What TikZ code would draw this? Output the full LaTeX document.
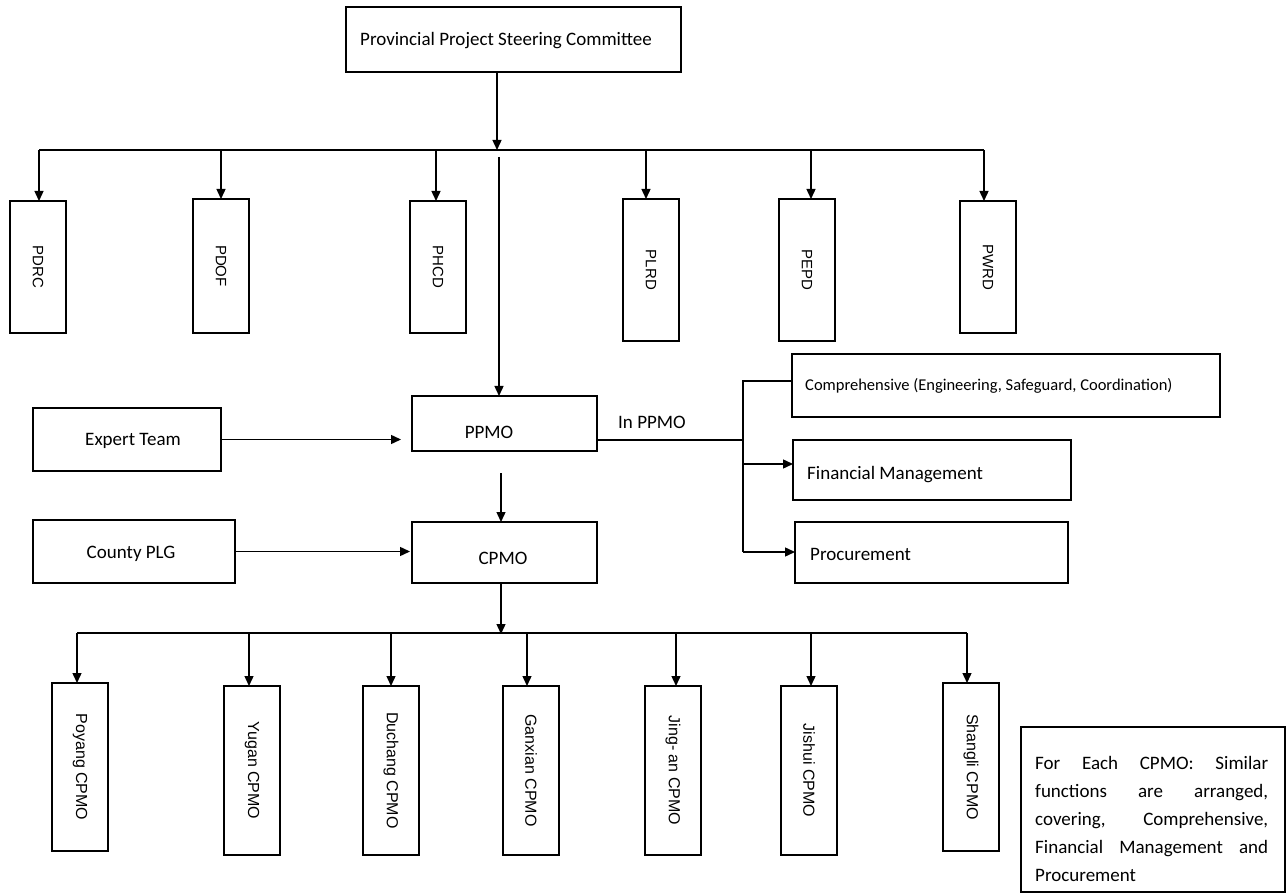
\documentclass[tikz,border=0pt]{standalone}
\usepackage{fontspec}
\usepackage{graphicx}
\setmainfont{Carlito}
\newfontfamily\arialf{Liberation Sans}
\usetikzlibrary{arrows.meta}
\begin{document}
\begin{tikzpicture}[x=1pt,y=-1pt,
  box/.style={draw, line width=1.5pt, inner sep=0pt, outer sep=0pt, anchor=north west},
  conn/.style={line width=1.4pt},
  arr/.style={conn, -{Triangle[length=10pt,width=9pt]}},
  lbl/.style={font=\fontsize{19}{23}\selectfont, inner sep=0pt},
  slbl/.style={font=\fontsize{16.5}{20}\selectfont, inner sep=0pt},
  vtop/.style={box, font=\arialf\fontsize{15}{18}\selectfont, minimum width=56pt},
  vbot/.style={box, font=\arialf\fontsize{16}{19}\selectfont, minimum width=56pt},
]
\useasboundingbox (0,0) rectangle (1286,893);

% top
\node[box, minimum width=335pt, minimum height=65pt] (psc) at (346,7) {};
\node[lbl, anchor=west] (psct) at (360,41) {Provincial Project Steering Committee};

\node[vtop, minimum height=132pt] (pdrc) at (10,201) {\rotatebox{-90}{PDRC}};
\node[vtop, minimum height=134pt] (pdof) at (193,199) {\rotatebox{-90}{PDOF}};
\node[vtop, minimum height=132pt] (phcd) at (410,201) {\rotatebox{-90}{PHCD}};
\node[vtop, minimum height=142pt] (plrd) at (623,199) {\rotatebox{-90}{PLRD}};
\node[vtop, minimum height=142pt] (pepd) at (779,199) {\rotatebox{-90}{PEPD}};
\node[vtop, minimum height=132pt] (pwrd) at (960,201) {\rotatebox{-90}{PWRD}};

\coordinate (tin) at (497,150);
\coordinate (t1) at (39,150);
\coordinate (t2) at (221,150);
\coordinate (t3) at (436,150);
\coordinate (t4) at (646,150);
\coordinate (t5) at (811,150);
\coordinate (t6) at (984,150);
\draw[arr] (psc.south -| tin) -- (tin);
\draw[conn] (t1) -- (t6);
\draw[arr] (t1) -- (t1 |- pdrc.north);
\draw[arr] (t2) -- (t2 |- pdof.north);
\draw[arr] (t3) -- (t3 |- phcd.north);
\draw[arr] (t4) -- (t4 |- plrd.north);
\draw[arr] (t5) -- (t5 |- pepd.north);
\draw[arr] (t6) -- (t6 |- pwrd.north);

% middle
\node[box, minimum width=185pt, minimum height=55pt] (ppmo) at (412,396) {};
\node[lbl] (ppmot) at (489,432) {PPMO};
\node[box, minimum width=188pt, minimum height=63pt] (expert) at (33,408) {};
\node[lbl] (expertt) at (133,441) {Expert Team};
\node[box, minimum width=185pt, minimum height=61pt] (cpmo) at (412,522) {};
\node[lbl] (cpmot) at (503,558) {CPMO};
\node[box, minimum width=202pt, minimum height=63pt] (county) at (33,520) {};
\node[lbl] (countyt) at (131,554) {County PLG};

\coordinate (vp) at (499,157);
\draw[arr] (vp) -- (vp |- ppmo.north);
\draw[arr, shorten >=11pt] (expert.east) -- (expert.east -| ppmo.west);
\draw[arr, shorten >=2pt] (county.east) -- (county.east -| cpmo.west);
\coordinate (pc) at (501,473);
\draw[arr] (pc) -- (pc |- cpmo.north);

% right
\node[box, minimum width=428pt, minimum height=63pt] (comp) at (792,354) {};
\node[slbl, anchor=west] (compt) at (805,386) {Comprehensive (Engineering, Safeguard, Coordination)};
\node[box, minimum width=278pt, minimum height=60pt] (fin) at (793,440) {};
\node[lbl, anchor=west] (fint) at (807,475) {Financial Management};
\node[box, minimum width=273pt, minimum height=61pt] (proc) at (795,522) {};
\node[lbl, anchor=west] (proct) at (810,554) {Procurement};
\node[lbl, anchor=west] (inppmo) at (618,422) {In PPMO};

\coordinate (rj) at (743,440);
\coordinate (rtop) at (743,381);
\coordinate (rfin) at (743,464);
\coordinate (rbot) at (743,552);
\draw[conn] (rj -| ppmo.east) -- (rj);
\draw[conn] (comp.west |- rtop) -- (rtop) -- (rbot);
\draw[arr] (rfin) -- (rfin -| fin.west);
\draw[arr] (rbot) -- (rbot -| proc.west);

% bottom
\node[vbot, minimum height=168pt] (poy) at (52,683) {\rotatebox{-90}{Poyang CPMO}};
\node[vbot, minimum height=169pt] (yug) at (224,686) {\rotatebox{-90}{Yugan CPMO}};
\node[vbot, minimum height=169pt] (duc) at (363,686) {\rotatebox{-90}{Duchang CPMO}};
\node[vbot, minimum height=169pt] (gan) at (503,686) {\rotatebox{-90}{Ganxian CPMO}};
\node[vbot, minimum height=169pt] (jin) at (645,686) {\rotatebox{-90}{Jing- an CPMO}};
\node[vbot, minimum height=169pt] (jis) at (781,686) {\rotatebox{-90}{Jishui CPMO}};
\node[vbot, minimum height=168pt] (sha) at (943,683) {\rotatebox{-90}{Shangli CPMO}};

\coordinate (bin) at (501,633);
\coordinate (b1) at (77,633);
\coordinate (b2) at (249,633);
\coordinate (b3) at (391,633);
\coordinate (b4) at (527,633);
\coordinate (b5) at (676,633);
\coordinate (b6) at (811,633);
\coordinate (b7) at (967,633);
\draw[arr] (cpmo.south -| bin) -- ([yshift=-1pt]bin);
\draw[conn] (b1) -- (b7);
\draw[arr] (b1) -- (b1 |- poy.north);
\draw[arr] (b2) -- (b2 |- yug.north);
\draw[arr] (b3) -- (b3 |- duc.north);
\draw[arr] (b4) -- (b4 |- gan.north);
\draw[arr] (b5) -- (b5 |- jin.north);
\draw[arr] (b6) -- (b6 |- jis.north);
\draw[arr] (b7) -- (b7 |- sha.north);

% note
\node[box, minimum width=264pt, minimum height=165pt] (note) at (1021,727) {};
\node[lbl, anchor=base west] (n1) at (1035,769) {\makebox[233pt][s]{For Each CPMO: Similar}};
\node[lbl, anchor=base west] (n2) at (1035,797) {\makebox[233pt][s]{functions are arranged,}};
\node[lbl, anchor=base west] (n3) at (1035,825) {\makebox[233pt][s]{covering, Comprehensive,}};
\node[lbl, anchor=base west] (n4) at (1035,853) {\makebox[233pt][s]{Financial Management and}};
\node[lbl, anchor=base west] (n5) at (1035,881) {Procurement};
\end{tikzpicture}
\end{document}
